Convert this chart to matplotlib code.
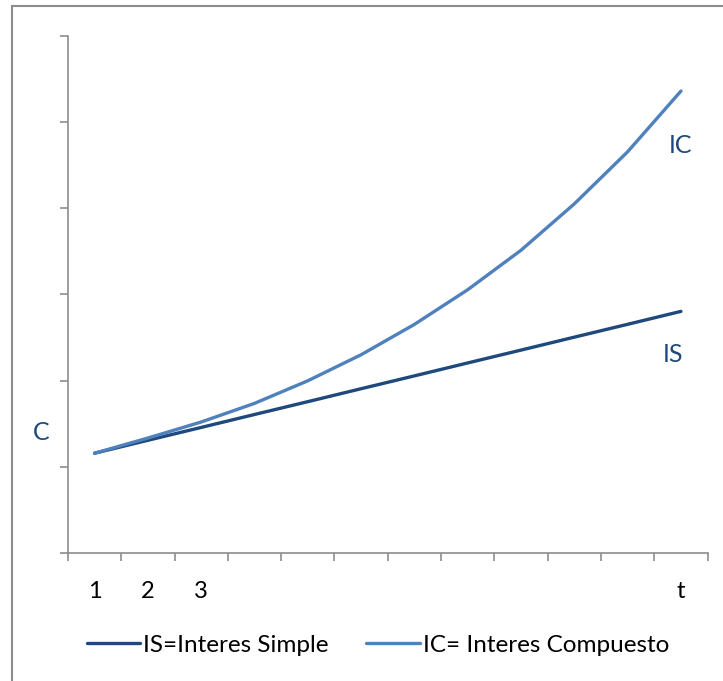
import matplotlib
matplotlib.use("Agg")
import matplotlib.pyplot as plt
from matplotlib.patches import Rectangle

# periods (category axis) and the two capital curves
periods = ["1", "2", "3", "", "", "", "", "", "", "", "", "t"]
interes_simple = [1.157, 1.307, 1.456, 1.606, 1.755, 1.905, 2.054, 2.204, 2.353, 2.503, 2.652, 2.802]
interes_compuesto = [1.157, 1.333, 1.519, 1.735, 1.997, 2.299, 2.651, 3.053, 3.511, 4.049, 4.653, 5.357]

dark = "#1F497D"
light = "#4F81BD"
axcol = "#8C8C8C"
plt.rcParams["font.family"] = ["Lato", "DejaVu Sans"]

W, H = 723, 681
fig = plt.figure(figsize=(W / 100, H / 100), dpi=100)
ax = fig.add_axes([67.9 / W, (H - 553) / H, (707.6 - 67.9) / W, (553 - 35.6) / H])

xs = list(range(len(periods)))
ax.plot(xs, interes_simple, color=dark, lw=2.4, solid_capstyle="round", label="IS=Interes Simple")
ax.plot(xs, interes_compuesto, color=light, lw=2.4, solid_capstyle="round", label="IC= Interes Compuesto")

ax.set_xlim(-0.5, len(periods) - 0.5)
ax.set_ylim(0, 6)

# category boundaries get the tick marks, centres get the labels
ax.set_xticks([i - 0.5 for i in range(len(periods) + 1)])
ax.set_xticklabels([])
ax.set_xticks(xs, minor=True)
ax.set_xticklabels(periods, minor=True, fontsize=17)
ax.tick_params(axis="x", which="major", length=5.5, width=1.2, color=axcol, direction="out")
ax.tick_params(axis="x", which="minor", length=0, pad=20)
ax.set_yticks(range(7))
ax.set_yticklabels([])
ax.tick_params(axis="y", length=6, width=1.2, color=axcol, direction="out")

for side in ["top", "right"]:
    ax.spines[side].set_visible(False)
for side in ["left", "bottom"]:
    ax.spines[side].set_color(axcol)
    ax.spines[side].set_linewidth(1.2)

ax.text(-1.0, 1.40, "C", color=dark, fontsize=18, ha="center", va="center")
ax.text(11.0, 4.73, "IC", color=dark, fontsize=18, ha="center", va="center")
ax.text(10.85, 2.3, "IS", color=dark, fontsize=18, ha="center", va="center")

fig.legend(loc="center", bbox_to_anchor=(378 / W, 1 - 645 / H), ncol=2, frameon=False,
           fontsize=17.5, handlelength=2.2, handletextpad=0.13, columnspacing=1.55)

# chart-area border, its right and bottom edges lie outside the image
fig.patches.append(Rectangle((11.5 / W, -0.1), 1.2, 1.1 - 6 / H, transform=fig.transFigure,
                             fill=False, edgecolor=axcol, lw=1.5))

fig.savefig("out.png", dpi=100)
